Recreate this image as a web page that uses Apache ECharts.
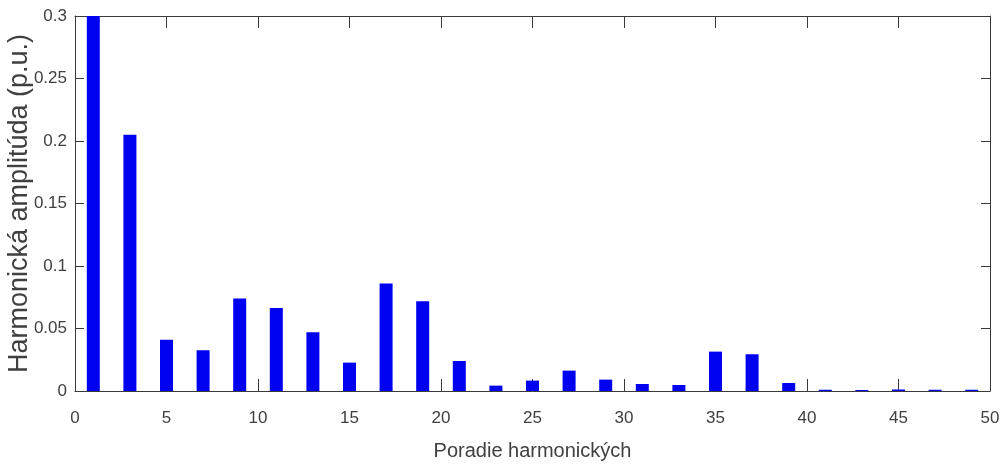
<!DOCTYPE html>
<html>
<head>
<meta charset="utf-8">
<script src="https://cdn.jsdelivr.net/npm/echarts@6/dist/echarts.min.js"></script>
<style>html,body{margin:0;padding:0;background:#fff;}#c{width:1003px;height:464px;}</style>
</head>
<body>
<div id="c"></div>
<script>
const harmonicOrders = [1,3,5,7,9,11,13,15,17,19,21,23,25,27,29,31,33,35,37,39,41,43,45,47,49];
const amplitudes = [0.3,0.205,0.041,0.0326,0.074,0.0664,0.047,0.0227,0.086,0.0718,0.024,0.0043,0.0083,0.0163,0.0091,0.0056,0.0048,0.0315,0.0294,0.0064,0.001,0.0008,0.0012,0.001,0.001];
const xTicks = [0,5,10,15,20,25,30,35,40,45,50];
const yTicks = [0,0.05,0.1,0.15,0.2,0.25,0.3];
const xName = 'Poradie harmonických';
const yName = 'Harmonická amplitúda (p.u.)';

const axisColor = '#3a3a3a';
const textColor = '#404040';
const font = '"Liberation Sans", Arial, sans-serif';

const chart = echarts.init(document.getElementById('c'));
const xBase = {
  type: 'value', min: xTicks[0], max: xTicks[xTicks.length-1], interval: 5,
  splitLine: {show: false},
  axisLine: {show: true, onZero: false, lineStyle: {color: axisColor, width: 1}},
  axisTick: {show: true, inside: true, length: 12, lineStyle: {color: axisColor}}
};
const yBase = {
  type: 'value', min: yTicks[0], max: yTicks[yTicks.length-1], interval: 0.05,
  splitLine: {show: false},
  axisLine: {show: true, onZero: false, lineStyle: {color: axisColor, width: 1}},
  axisTick: {show: true, inside: true, length: 9, lineStyle: {color: axisColor}}
};
chart.setOption({
  animation: false,
  grid: {left: 75, right: 13, top: 16, bottom: 73, containLabel: false, outerBoundsMode: 'none'},
  xAxis: [
    Object.assign({}, xBase, {
      position: 'bottom',
      axisLabel: {color: textColor, fontSize: 17, fontFamily: font, margin: 19},
      name: xName, nameLocation: 'middle', nameGap: 50, nameMoveOverlap: false,
      nameTextStyle: {color: textColor, fontSize: 20, fontFamily: font}
    }),
    Object.assign({}, xBase, {position: 'top', axisLabel: {show: false}})
  ],
  yAxis: [
    Object.assign({}, yBase, {
      position: 'left',
      axisLabel: {color: textColor, fontSize: 17, fontFamily: font, margin: 8,
        formatter: v => String(+v.toFixed(2))},
      name: yName, nameLocation: 'middle', nameGap: 42, nameMoveOverlap: false,
      nameTextStyle: {color: textColor, fontSize: 27, fontFamily: font}
    }),
    Object.assign({}, yBase, {position: 'right', axisLabel: {show: false}})
  ],
  series: [{
    type: 'bar',
    xAxisIndex: 0, yAxisIndex: 0,
    barWidth: 13,
    itemStyle: {color: '#0000f0'},
    data: harmonicOrders.map((h, i) => [h, amplitudes[i]])
  }]
});
</script>
</body>
</html>
